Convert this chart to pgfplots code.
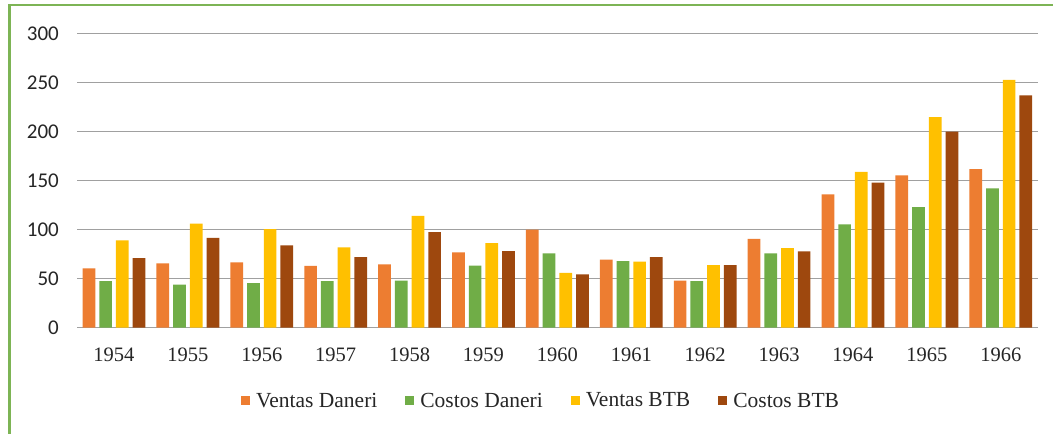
\documentclass[border=0pt]{standalone}
\usepackage{fontspec}
\setmainfont{Liberation Serif}
\newfontfamily\carlito{Carlito}
\usepackage{pgfplots}
\pgfplotsset{compat=1.18}
\definecolor{cVD}{HTML}{ED7D31}
\definecolor{cCD}{HTML}{70AD47}
\definecolor{cVB}{HTML}{FFC000}
\definecolor{cCB}{HTML}{9E480E}
\definecolor{frameg}{RGB}{125,180,85}
\definecolor{gridg}{RGB}{160,160,160}
\definecolor{txt}{RGB}{38,38,38}
\begin{document}
\begin{tikzpicture}
\path[use as bounding box] (0,0) rectangle (1053bp,434bp);
\fill[white] (0,0) rectangle (1053bp,434bp);
\draw[frameg, line width=2.5bp] (9.5bp,-2bp) -- (9.5bp,430bp);
\draw[frameg, line width=2bp] (8.25bp,429bp) -- (1056bp,429bp);
\begin{axis}[
  at={(77bp,106.3bp)}, anchor=south west,
  scale only axis, width=960.7bp, height=294.2bp,
  ybar=4bp, bar width=12.7bp,
  xmin=-0.5, xmax=12.5, ymin=0, ymax=300,
  xtick=data,
  xticklabels={1954,1955,1956,1957,1958,1959,1960,1961,1962,1963,1964,1965,1966},
  ytick={0,50,...,300},
  /pgf/number format/assume math mode=true,
  axis line style={draw=none},
  tick style={draw=none},
  ymajorgrids, grid style={gridg, line width=1.2bp},
  xticklabel style={font=\fontsize{20.5bp}{24bp}\selectfont, text=txt, anchor=center, inner sep=0pt, yshift=-23.3bp},
  yticklabel style={font=\carlito\fontsize{21bp}{25bp}\selectfont, text=txt, anchor=east, inner sep=0pt, xshift=-18bp},
  legend columns=4,
  legend style={at={(axis description cs:0.1707,-0.248)}, anchor=west, draw=none, fill=none, inner sep=0pt,
    font=\fontsize{21.5bp}{25bp}\selectfont, text=txt, nodes={inner sep=2bp},
    /tikz/every odd column/.append style={column sep=4bp},
    /tikz/every even column/.append style={column sep=26bp}},
  legend image code/.code={\fill[#1,draw=none] (0bp,-4.5bp) rectangle (9bp,4.5bp);},
]
\addplot[fill=cVD, draw=none] coordinates {(0,60.5) (1,65.6) (2,66.6) (3,63) (4,64.6) (5,76.8) (6,100) (7,69.3) (8,48) (9,90.7) (10,136) (11,155.3) (12,161.7)};
\addplot[fill=cCD, draw=none] coordinates {(0,47.6) (1,44) (2,45.5) (3,47.6) (4,48) (5,63.2) (6,75.8) (7,68) (8,47.6) (9,75.8) (10,105.3) (11,123) (12,142)};
\addplot[fill=cVB, draw=none] coordinates {(0,89) (1,106) (2,100.6) (3,82) (4,114) (5,86.3) (6,56) (7,67.3) (8,63.9) (9,81.2) (10,159) (11,214.7) (12,252.8)};
\addplot[fill=cCB, draw=none] coordinates {(0,71) (1,91.7) (2,84) (3,72) (4,97.5) (5,78) (6,54.4) (7,72) (8,63.9) (9,77.8) (10,148) (11,200) (12,237)};
\legend{Ventas Daneri, Costos Daneri, Ventas BTB, Costos BTB}
\end{axis}
\end{tikzpicture}
\end{document}
